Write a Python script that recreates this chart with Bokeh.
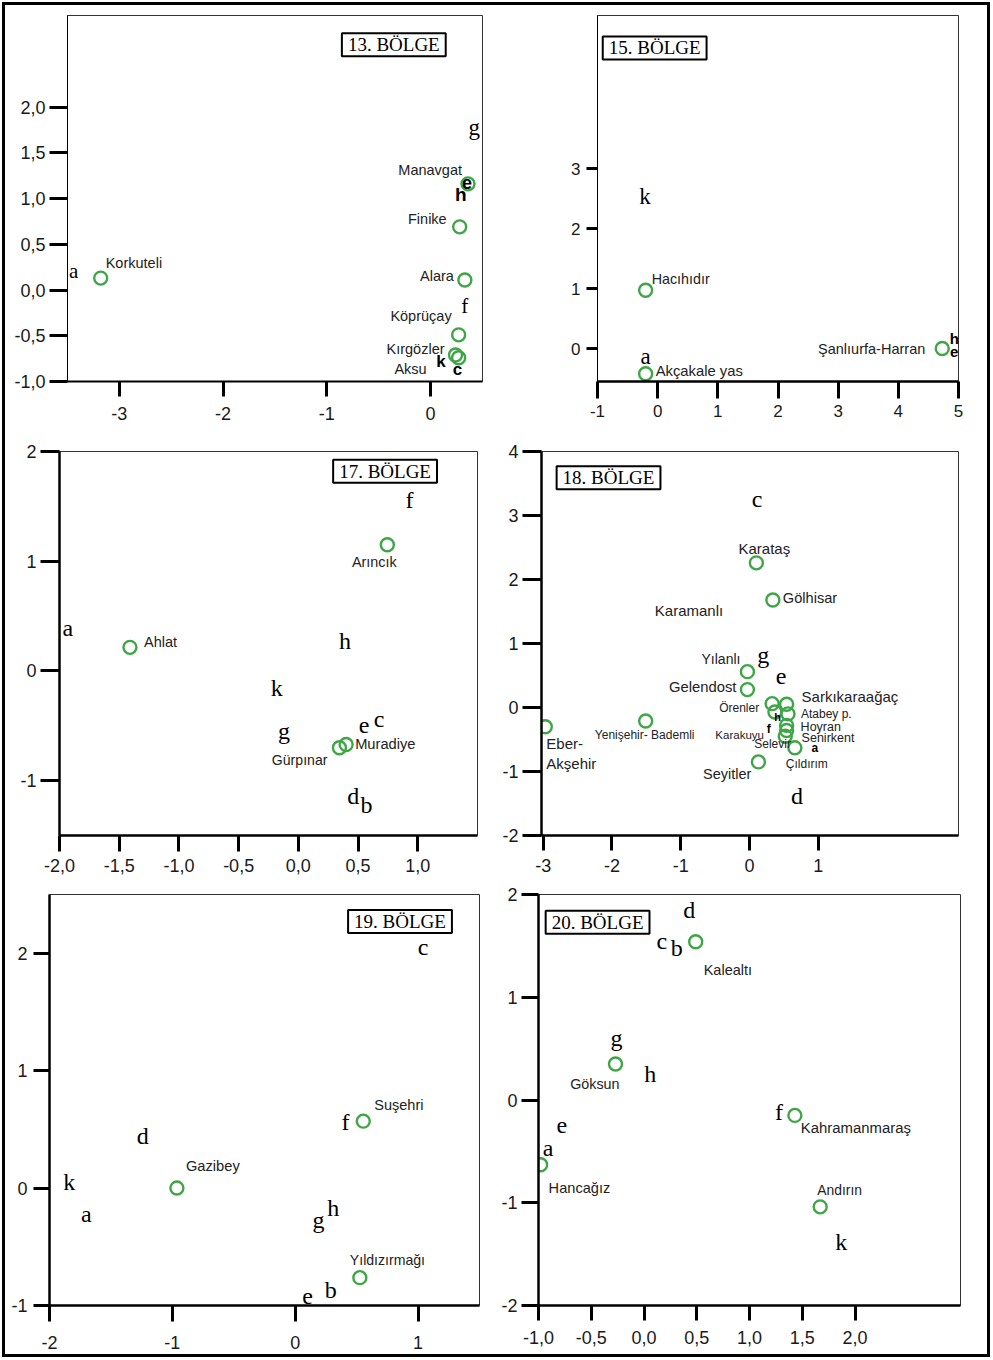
from bokeh.plotting import figure
from bokeh.models import ColumnDataSource, FixedTicker, CustomJSTickFormatter, Range1d, Label
from bokeh.layouts import column, row
from bokeh.embed import file_html
from bokeh.resources import INLINE
from bokeh.core.properties import value

GREEN = "#3fa647"
SANS = "Liberation Sans"
SERIF = "Liberation Serif"

# ---------------- data ----------------
# 13. BÖLGE
P13_SITES = ["Korkuteli", "Manavgat", "Finike", "Alara", "Köprüçay", "Kırgözler", "Aksu"]
P13_X = [-3.18, 0.36, 0.28, 0.33, 0.27, 0.24, 0.27]
P13_Y = [0.13, 1.16, 0.69, 0.11, -0.49, -0.71, -0.74]
P13_LETTERS = ["a", "g", "e", "h", "f", "k", "c"]
P13_LX = [-3.44, 0.42, 0.35, 0.29, 0.33, 0.10, 0.26]
P13_LY = [0.21, 1.78, 1.17, 1.04, -0.18, -0.78, -0.87]
P13_XTICKS = [-3, -2, -1, 0]
P13_YTICKS = [-1.0, -0.5, 0.0, 0.5, 1.0, 1.5, 2.0]

# 15. BÖLGE
P15_SITES = ["Hacıhıdır", "Akçakale yas", "Şanlıurfa-Harran"]
P15_X = [-0.20, -0.20, 4.73]
P15_Y = [0.97, -0.42, 0.00]
P15_LETTERS = ["k", "a", "h", "e"]
P15_LX = [-0.21, -0.20, 4.93, 4.93]
P15_LY = [2.53, -0.13, 0.17, -0.06]
P15_XTICKS = [-1, 0, 1, 2, 3, 4, 5]
P15_YTICKS = [0, 1, 2, 3]

# 17. BÖLGE
P17_SITES = ["Arıncık", "Ahlat", "Gürpınar", "Muradiye"]
P17_X = [0.745, -1.41, 0.344, 0.40]
P17_Y = [1.15, 0.215, -0.70, -0.67]
P17_LETTERS = ["f", "a", "h", "k", "g", "e", "c", "d", "b"]
P17_LX = [0.93, -1.93, 0.39, -0.18, -0.12, 0.55, 0.675, 0.46, 0.57]
P17_LY = [1.56, 0.39, 0.27, -0.16, -0.55, -0.50, -0.44, -1.14, -1.22]
P17_XTICKS = [-2.0, -1.5, -1.0, -0.5, 0.0, 0.5, 1.0]
P17_YTICKS = [-1, 0, 1, 2]

# 18. BÖLGE
P18_SITES = ["Karataş", "Gölhisar", "Yılanlı", "Gelendost", "Örenler", "Sarkıkaraağaç",
             "Karakuyu", "Atabey p.", "Hoyran", "Senirkent", "Selevir", "Çıldırım",
             "Seyitler", "Eber-\nAkşehir", "Yenişehir- Bademli"]
P18_X = [0.10, 0.34, -0.03, -0.03, 0.33, 0.54, 0.37, 0.56, 0.54, 0.54, 0.52, 0.66, 0.13, -2.97, -1.51]
P18_Y = [2.26, 1.68, 0.56, 0.28, 0.06, 0.05, -0.07, -0.10, -0.28, -0.36, -0.45, -0.63, -0.85, -0.30, -0.21]
P18_UNMARKED = ["Karamanlı"]
P18_UX = [-0.88]
P18_UY = [1.51]
P18_LETTERS = ["c", "g", "e", "h", "f", "a", "d"]
P18_LX = [0.11, 0.20, 0.46, 0.41, 0.28, 0.95, 0.69]
P18_LY = [3.26, 0.82, 0.48, -0.15, -0.34, -0.64, -1.39]
P18_XTICKS = [-3, -2, -1, 0, 1]
P18_YTICKS = [-2, -1, 0, 1, 2, 3, 4]

# 19. BÖLGE
P19_SITES = ["Suşehri", "Gazibey", "Yıldızırmağı"]
P19_X = [0.554, -0.963, 0.526]
P19_Y = [0.57, 0.00, -0.763]
P19_LETTERS = ["c", "f", "d", "k", "a", "g", "h", "b", "e"]
P19_LX = [1.04, 0.41, -1.24, -1.84, -1.70, 0.19, 0.31, 0.29, 0.10]
P19_LY = [2.05, 0.56, 0.44, 0.05, -0.22, -0.27, -0.17, -0.87, -0.92]
P19_XTICKS = [-2, -1, 0, 1]
P19_YTICKS = [-1, 0, 1, 2]

# 20. BÖLGE
P20_SITES = ["Kalealtı", "Göksun", "Kahramanmaraş", "Andırın", "Hancağız"]
P20_X = [0.49, -0.27, 1.43, 1.67, -0.98]
P20_Y = [1.54, 0.35, -0.15, -1.04, -0.63]
P20_LETTERS = ["d", "c", "b", "g", "h", "e", "f", "a", "k"]
P20_LX = [0.43, 0.17, 0.31, -0.26, 0.06, -0.78, 1.28, -0.91, 1.87]
P20_LY = [1.85, 1.55, 1.48, 0.60, 0.25, -0.25, -0.12, -0.47, -1.38]
P20_XTICKS = [-1.0, -0.5, 0.0, 0.5, 1.0, 1.5, 2.0]
P20_YTICKS = [-2, -1, 0, 1, 2]

# ---------------- label styling (offsets in px, alignment, font size) ----------------
P13_LAB = [(5, -15, "left", 14.5), (-6, -14, "right", 14.5), (-13, -8, "right", 14.5),
           (-11, -4, "right", 14.5), (-7, -19, "right", 14.5), (-11, -6, "right", 14.5),
           (-32, 11, "right", 14.5)]
P13_LET = [("serif", 21), ("serif", 23), ("bold", 18), ("bold", 19), ("serif", 21), ("bold", 17), ("bold", 17)]

P15_LAB = [(6, -11, "left", 14.3), (10, -3, "left", 14.8), (-17, 0, "right", 14.5)]
P15_LET = [("serif", 23), ("serif", 23), ("bold", 15), ("bold", 15)]

P17_LAB = [(-13, 17, "center", 14.4), (14, -5, "left", 14.5), (-12, 12, "right", 14.1), (9, 0, "left", 14.7)]
P17_LET = [("serif", 24)] * 9

P18_LAB = [(8, -14, "center", 15), (10, -2, "left", 14.6), (-7, -13, "right", 14), (-11, -3, "right", 14.8),
           (-13, 4, "right", 12), (15, -8, "left", 15), (-11, 23, "right", 11.5), (13, 0, "left", 12),
           (14, 2, "left", 12.5), (15, 7, "left", 12.5), (-31, 8, "left", 12), (-9, 16, "left", 12),
           (-7, 12, "right", 14.5), (1, 27, "left", 15), (-1, 14, "center", 12)]
P18_ULAB = [("center", 15)]
P18_LET = [("serif", 24), ("serif", 24), ("serif", 24), ("bold", 11), ("bold", 12), ("bold", 12), ("serif", 24)]

P19_LAB = [(11, -16, "left", 14.5), (9, -22, "left", 14.7), (-10, -18, "left", 14.1)]
P19_LET = [("serif", 24)] * 9

P20_LAB = [(8, 28, "left", 14.5), (4, 20, "right", 14.3), (6, 13, "left", 14.9), (-3, -17, "left", 13.9),
           (8, 23, "left", 14.6)]
P20_LET = [("serif", 24)] * 9


def formatter(dec):
    if dec:
        return CustomJSTickFormatter(code="return tick.toFixed(1).replace('.', ',');")
    return CustomJSTickFormatter(code="return tick.toFixed(0);")


def make_panel(width, height, borders, xr, yr, xticks, yticks, xdec, ydec,
               xstyle, ystyle, tick_font="18px"):
    left, right, top, bottom = borders
    p = figure(width=width, height=height, x_range=Range1d(*xr), y_range=Range1d(*yr),
               output_backend="svg", toolbar_location=None, tools="",
               min_border_left=left, min_border_right=right,
               min_border_top=top, min_border_bottom=bottom)
    p.grid.visible = False
    p.outline_line_color = "#333333"
    p.outline_line_width = 1
    p.background_fill_color = "white"
    p.border_fill_color = None
    for ax, ticks, dec, st in [(p.xaxis[0], xticks, xdec, xstyle), (p.yaxis[0], yticks, ydec, ystyle)]:
        tout, stand, lw = st
        ax.ticker = FixedTicker(ticks=ticks)
        ax.formatter = formatter(dec)
        ax.axis_label_standoff = 0
        ax.major_tick_out = tout
        ax.major_tick_in = 0
        ax.minor_tick_line_color = None
        ax.major_tick_line_width = 3
        ax.major_tick_line_color = "black"
        ax.axis_line_width = lw
        ax.axis_line_color = "black"
        ax.major_label_text_font = SANS
        ax.major_label_text_font_size = tick_font
        ax.major_label_text_color = "#1a1a1a"
        ax.major_label_standoff = stand
    return p


def add_sites(p, names, xs, ys, lab, marker=True):
    if marker:
        p.scatter(xs, ys, marker="circle", size=13, fill_color=None,
                  line_color=GREEN, line_width=2.4)
    src = ColumnDataSource(dict(x=xs, y=ys, t=names,
                                dx=[l[0] for l in lab], dy=[l[1] for l in lab],
                                al=[l[2] for l in lab], fs=["%spx" % l[3] for l in lab]))
    p.text("x", "y", text="t", x_offset="dx", y_offset="dy", text_align="al",
           text_baseline="middle", text_font=value(SANS), text_font_size="fs",
           text_color="#222222", text_line_height=1.15, source=src)


def add_letters(p, letters, xs, ys, sty):
    for kind, font, style in [("serif", SERIF, "normal"), ("bold", SANS, "bold")]:
        idx = [i for i, s in enumerate(sty) if s[0] == kind]
        if not idx:
            continue
        src = ColumnDataSource(dict(x=[xs[i] for i in idx], y=[ys[i] for i in idx],
                                    t=[letters[i] for i in idx],
                                    fs=["%spx" % sty[i][1] for i in idx]))
        p.text("x", "y", text="t", text_align="center", text_baseline="middle",
               text_font=value(font), text_font_style=style, text_font_size="fs",
               text_color="black", source=src)


def add_title(p, text, x, y):
    kw = dict(x=x, y=y, text=text, text_font=SERIF, text_font_size="19px",
              text_align="center", text_baseline="middle", text_color="black",
              background_fill_color="white", border_line_color="black",
              border_line_width=2)
    lab = None
    for pad in (dict(x=6, y=1), (6, 1), 4):
        try:
            lab = Label(padding=pad, **kw)
            break
        except Exception:
            lab = None
    if lab is None:
        lab = Label(**kw)
    p.add_layout(lab)


W1, W2 = 492, 500
H1, H2, H3 = 432, 450, 477

# row 1 (frames share top/bottom borders)
p13 = make_panel(W1, H1, (67, 10, 15, 51), (-3.5, 0.5), (-1.0, 3.0), P13_XTICKS, P13_YTICKS,
                 False, True, (15, 10, 2), (18, 4, 1))
add_sites(p13, P13_SITES, P13_X, P13_Y, P13_LAB)
add_letters(p13, P13_LETTERS, P13_LX, P13_LY, P13_LET)
add_title(p13, "13. BÖLGE", -0.355, 2.68)

p15 = make_panel(W2, H1, (105, 34, 15, 51), (-1, 5), (-0.55, 5.55), P15_XTICKS, P15_YTICKS,
                 False, False, (17, 6, 2.5), (11, 6, 1), tick_font="17px")
add_sites(p15, P15_SITES, P15_X, P15_Y, P15_LAB)
add_letters(p15, P15_LETTERS, P15_LX, P15_LY, P15_LET)
add_title(p15, "15. BÖLGE", -0.05, 5.01)

# row 2
p17 = make_panel(W1, H2, (59, 15, 19, 47), (-2.0, 1.5), (-1.5, 2.0), P17_XTICKS, P17_YTICKS,
                 True, False, (16, 7, 2.5), (19, 4, 2.5))
add_sites(p17, P17_SITES, P17_X, P17_Y, P17_LAB)
add_letters(p17, P17_LETTERS, P17_LX, P17_LY, P17_LET)
add_title(p17, "17. BÖLGE", 0.726, 1.82)

p18 = make_panel(W2, H2, (49, 34, 19, 47), (-3.025, 3.04), (-2, 4), P18_XTICKS, P18_YTICKS,
                 False, False, (15, 8, 2.5), (19, 4, 2.5))
add_sites(p18, P18_SITES, P18_X, P18_Y, P18_LAB)
add_sites(p18, P18_UNMARKED, P18_UX, P18_UY, [(0, 0, a, s) for a, s in P18_ULAB], marker=False)
add_letters(p18, P18_LETTERS, P18_LX, P18_LY, P18_LET)
add_title(p18, "18. BÖLGE", -2.05, 3.59)

# row 3
p19 = make_panel(W1, H3, (49, 13, 12, 54), (-2.0, 1.5), (-1.0, 2.5), P19_XTICKS, P19_YTICKS,
                 False, False, (16, 14, 2.5), (16, 6, 2.5))
add_sites(p19, P19_SITES, P19_X, P19_Y, P19_LAB)
add_letters(p19, P19_LETTERS, P19_LX, P19_LY, P19_LET)
add_title(p19, "19. BÖLGE", 0.853, 2.27)

p20 = make_panel(W2, H3, (46, 32, 12, 54), (-1.0, 3.0), (-2.0, 2.0), P20_XTICKS, P20_YTICKS,
                 True, False, (15, 10, 2.5), (17, 4, 2.5))
add_sites(p20, P20_SITES, P20_X, P20_Y, P20_LAB)
add_letters(p20, P20_LETTERS, P20_LX, P20_LY, P20_LET)
add_title(p20, "20. BÖLGE", -0.44, 1.73)

layout = column(row(p13, p15), row(p17, p18), row(p19, p20),
                styles={"outline": "3px solid black", "outline-offset": "-5px"})

open("out.html", "w").write(file_html(layout, INLINE))
